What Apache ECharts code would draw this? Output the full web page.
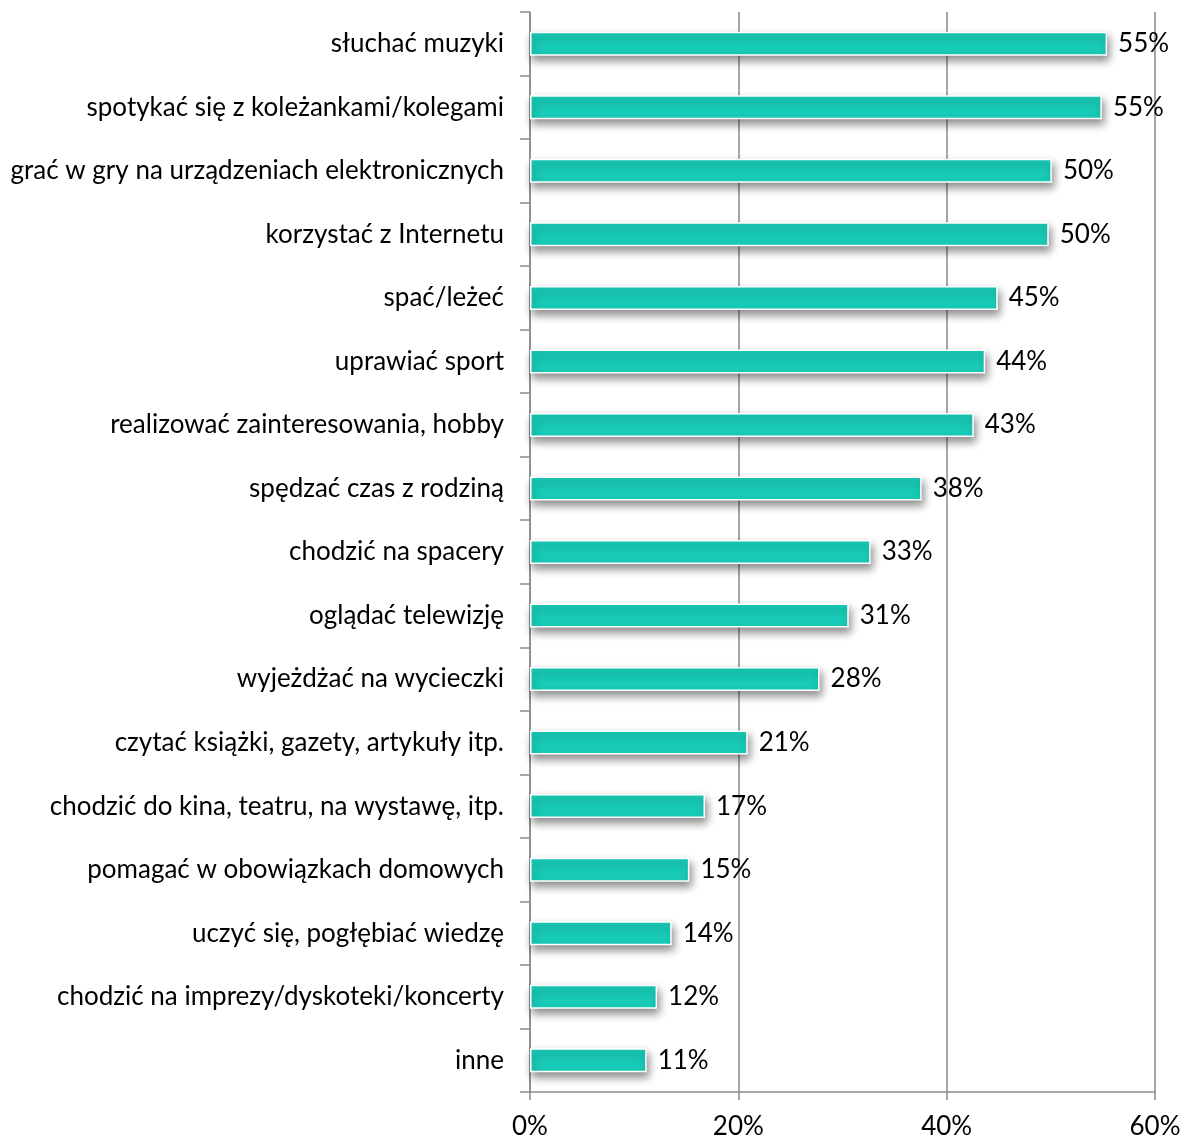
<!DOCTYPE html>
<html>
<head>
<meta charset="utf-8">
<script src="https://cdn.jsdelivr.net/npm/echarts@6/dist/echarts.min.js"></script>
<style>
html,body{margin:0;padding:0;background:#fff;}
#chart{width:1185px;height:1140px;}
</style>
</head>
<body>
<div id="chart"></div>
<script>
const categories = [
  "słuchać muzyki",
  "spotykać się z koleżankami/kolegami",
  "grać w gry na urządzeniach elektronicznych",
  "korzystać z Internetu",
  "spać/leżeć",
  "uprawiać sport",
  "realizować zainteresowania, hobby",
  "spędzać czas z rodziną",
  "chodzić na spacery",
  "oglądać telewizję",
  "wyjeżdżać na wycieczki",
  "czytać książki, gazety, artykuły itp.",
  "chodzić do kina, teatru, na wystawę, itp.",
  "pomagać w obowiązkach domowych",
  "uczyć się, pogłębiać wiedzę",
  "chodzić na imprezy/dyskoteki/koncerty",
  "inne"
];
const values = [55.4, 54.9, 50.1, 49.8, 44.9, 43.7, 42.6, 37.6, 32.7, 30.6, 27.8, 20.9, 16.8, 15.3, 13.6, 12.2, 11.2];
const xTicks = { min: 0, max: 60, interval: 20 };

const FONT = 'Lato';
const chart = echarts.init(document.getElementById('chart'), null, {renderer: 'canvas'});
chart.setOption({
  animation: false,
  backgroundColor: '#ffffff',
  grid: { left: 530, right: 30, top: 12, bottom: 48, containLabel: false },
  xAxis: {
    type: 'value',
    min: xTicks.min, max: xTicks.max, interval: xTicks.interval,
    axisLine: { show: true, lineStyle: { color: '#8a8a8a', width: 1.5 } },
    axisTick: { show: true, length: 8, lineStyle: { color: '#8a8a8a', width: 1.5 } },
    splitLine: { show: true, lineStyle: { color: '#8a8a8a', width: 1.5 } },
    axisLabel: { formatter: '{value}%', color: '#000', fontFamily: FONT, fontSize: 26, margin: 22 }
  },
  yAxis: {
    type: 'category',
    inverse: true,
    data: categories,
    axisLine: { show: true, lineStyle: { color: '#8a8a8a', width: 1.5 } },
    axisTick: { show: true, inside: false, length: 10, lineStyle: { color: '#8a8a8a', width: 1.5 } },
    axisLabel: { color: '#000', fontFamily: FONT, fontSize: 26, margin: 26 }
  },
  series: [{
    type: 'bar',
    data: values,
    barWidth: 24,
    itemStyle: {
      color: '#18CCB8',
      borderColor: '#ffffff',
      borderWidth: 1.5,
      shadowColor: 'rgba(0,0,0,0.45)',
      shadowBlur: 8,
      shadowOffsetX: 2,
      shadowOffsetY: 5
    },
    label: {
      show: true,
      position: 'right',
      distance: 11,
      color: '#000',
      fontFamily: FONT,
      fontSize: 26,
      formatter: p => Math.round(p.value) + '%'
    }
  }]
});
</script>
</body>
</html>
